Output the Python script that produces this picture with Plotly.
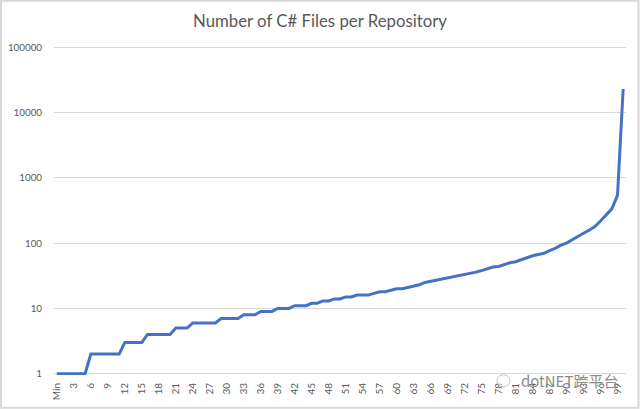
import plotly.graph_objects as go

categories = ["Min"] + [str(i) for i in range(1, 100)] + ["Max"]
values = [1, 1, 1, 1, 1, 1,
          2, 2, 2, 2, 2, 2,
          3, 3, 3, 3,
          4, 4, 4, 4, 4,
          5, 5, 5,
          6, 6, 6, 6, 6,
          7, 7, 7, 7,
          8, 8, 8,
          9, 9, 9,
          10, 10, 10,
          11, 11, 11,
          12, 12, 13, 13, 14, 14, 15, 15, 16, 16, 16,
          17, 18, 18, 19, 20, 20, 21, 22, 23, 25, 26, 27, 28, 29,
          30, 32, 33, 34, 36, 38, 41, 43, 44, 47,
          50, 52, 56, 60, 64, 67, 70, 77, 83, 93,
          100, 113, 125, 142, 158, 180, 218, 268, 335, 540, 23000]
tick_labels = categories[0:100:3]
y_ticks = [1, 10, 100, 1000, 10000, 100000]
title = "Number of C# Files per Repository"
watermark = "dotNET跨平台"

W, H = 640, 409
L, R, T, B = 54, 626, 46.2, 375.3
PW, PH = R - L, B - T


def px(x):
    return (x - L) / PW


def py(y):
    return (B - y) / PH


fig = go.Figure(go.Scatter(x=categories, y=values, mode="lines",
                           line=dict(color="#4472C4", width=3, shape="linear"),
                           hoverinfo="skip"))
fig.update_layout(
    width=W, height=H, showlegend=False,
    paper_bgcolor="white", plot_bgcolor="white",
    margin=dict(l=L, r=W - R, t=T, b=H - B, autoexpand=False),
    title=dict(text=title, x=0.5, xanchor="center", y=1 - 21 / H, yanchor="middle",
               font=dict(family="Lato, Carlito, sans-serif", size=16.8, color="#595959")),
    font=dict(family="Lato, sans-serif", size=10, color="#595959"),
    xaxis=dict(type="category", categoryorder="array", categoryarray=categories,
               range=[-0.5, 100.5], tickmode="array", tickvals=tick_labels, ticktext=tick_labels,
               tickangle=-90, showgrid=False, showline=False, zeroline=False,
               ticks="outside", ticklen=3, tickcolor="rgba(0,0,0,0)",
               tickfont=dict(size=10, color="#595959")),
    yaxis=dict(type="log", range=[-0.02, 5.02], tickmode="array", tickvals=y_ticks,
               ticktext=[str(v) for v in y_ticks],
               showgrid=True, gridcolor="#D9D9D9", gridwidth=1, showline=False, zeroline=False,
               ticks="outside", ticklen=9, tickcolor="rgba(0,0,0,0)",
               tickfont=dict(size=9.8, color="#595959")),
    shapes=[
        dict(type="rect", xref="paper", yref="paper", x0=px(1), x1=px(638.5),
             y0=py(408), y1=py(1), line=dict(color="#D9D9D9", width=2)),
        dict(type="circle", xref="paper", yref="paper", x0=px(497), x1=px(510),
             y0=py(387), y1=py(375), line=dict(color="#C4C4C4", width=1),
             fillcolor="rgba(255,255,255,0.5)"),
    ],
    annotations=[dict(text=watermark, xref="paper", yref="paper",
                      x=px(519), y=py(381), xanchor="left", yanchor="middle",
                      showarrow=False,
                      font=dict(family="Noto Sans CJK SC, Noto Sans, sans-serif", size=15, color="#8C8C8C"))],
)
fig.write_html("out.html", config={"displayModeBar": False},
               post_script="document.body.style.margin='0';document.body.style.overflow='hidden';")
